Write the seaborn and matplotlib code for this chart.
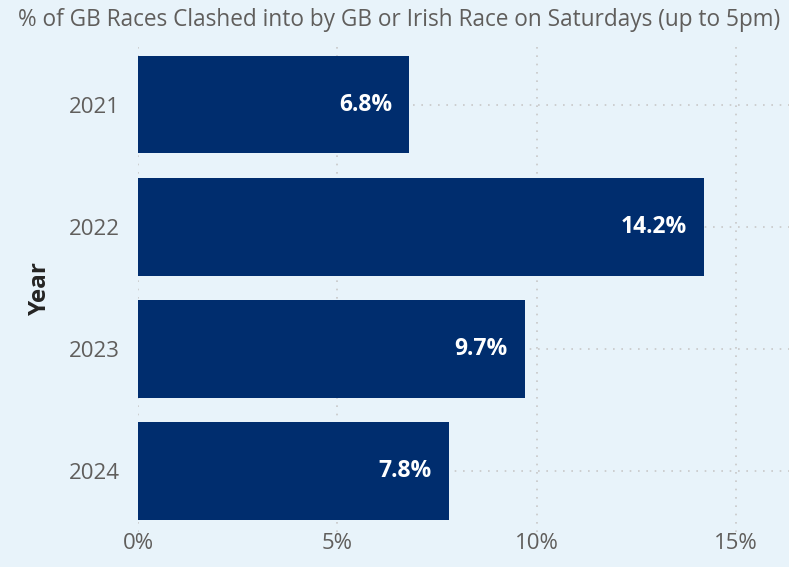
import pandas as pd
import numpy as np
import seaborn as sns
import matplotlib.pyplot as plt

years = ['2021', '2022', '2023', '2024']
pct_clashed = [6.8, 14.2, 9.7, 7.8]
x_ticks = [0, 5, 10, 15]
x_tick_labels = ['0%', '5%', '10%', '15%']

df = pd.DataFrame({'Year': years, 'Pct': pct_clashed})

bg = '#E8F3FA'
bar_col = '#002D6E'
grey = '#605E5C'

sns.set_style('white')
plt.rcParams['font.family'] = ['Open Sans', 'DejaVu Sans']

fig = plt.figure(figsize=(7.89, 5.67), dpi=100, facecolor=bg)
ax = fig.add_axes([138 / 789, 35 / 567, 651 / 789, 488.5 / 567])
ax.set_facecolor(bg)

sns.barplot(data=df, x='Pct', y='Year', color=bar_col, saturation=1, width=0.8,
            linewidth=0, ax=ax, zorder=3)

# dotted grid both ways
for t in x_ticks:
    ax.axvline(t, color='#C8C8C8', linestyle=(0, (1, 4)), linewidth=1.2, zorder=1)
for i in range(len(years)):
    ax.axhline(i, color='#C8C8C8', linestyle=(0, (1, 4)), linewidth=1.2, zorder=1)

ax.set_xlim(0, 16.33)
ax.set_ylim(3.5, -0.5)
ax.set_xticks(x_ticks)
ax.set_xticklabels(x_tick_labels)
ax.tick_params(axis='both', length=0, labelsize=16, labelcolor=grey, pad=13)
ax.tick_params(axis='x', pad=1)
for s in ax.spines.values():
    s.set_visible(False)

ax.set_xlabel('')
ax.set_ylabel('Year', fontsize=17.5, fontweight='bold', color='#252423', labelpad=12)

for i, v in enumerate(pct_clashed):
    ax.text(v - 0.43, i, f'{v}%', color='white', fontsize=16.5, fontweight='bold',
            ha='right', va='center', zorder=4)

fig.text(18 / 789, 1 - 20 / 567, '% of GB Races Clashed into by GB or Irish Race on Saturdays (up to 5pm)',
         fontsize=16.3, color=grey, ha='left', va='center')

fig.savefig('out.png', dpi=100, facecolor=bg)
